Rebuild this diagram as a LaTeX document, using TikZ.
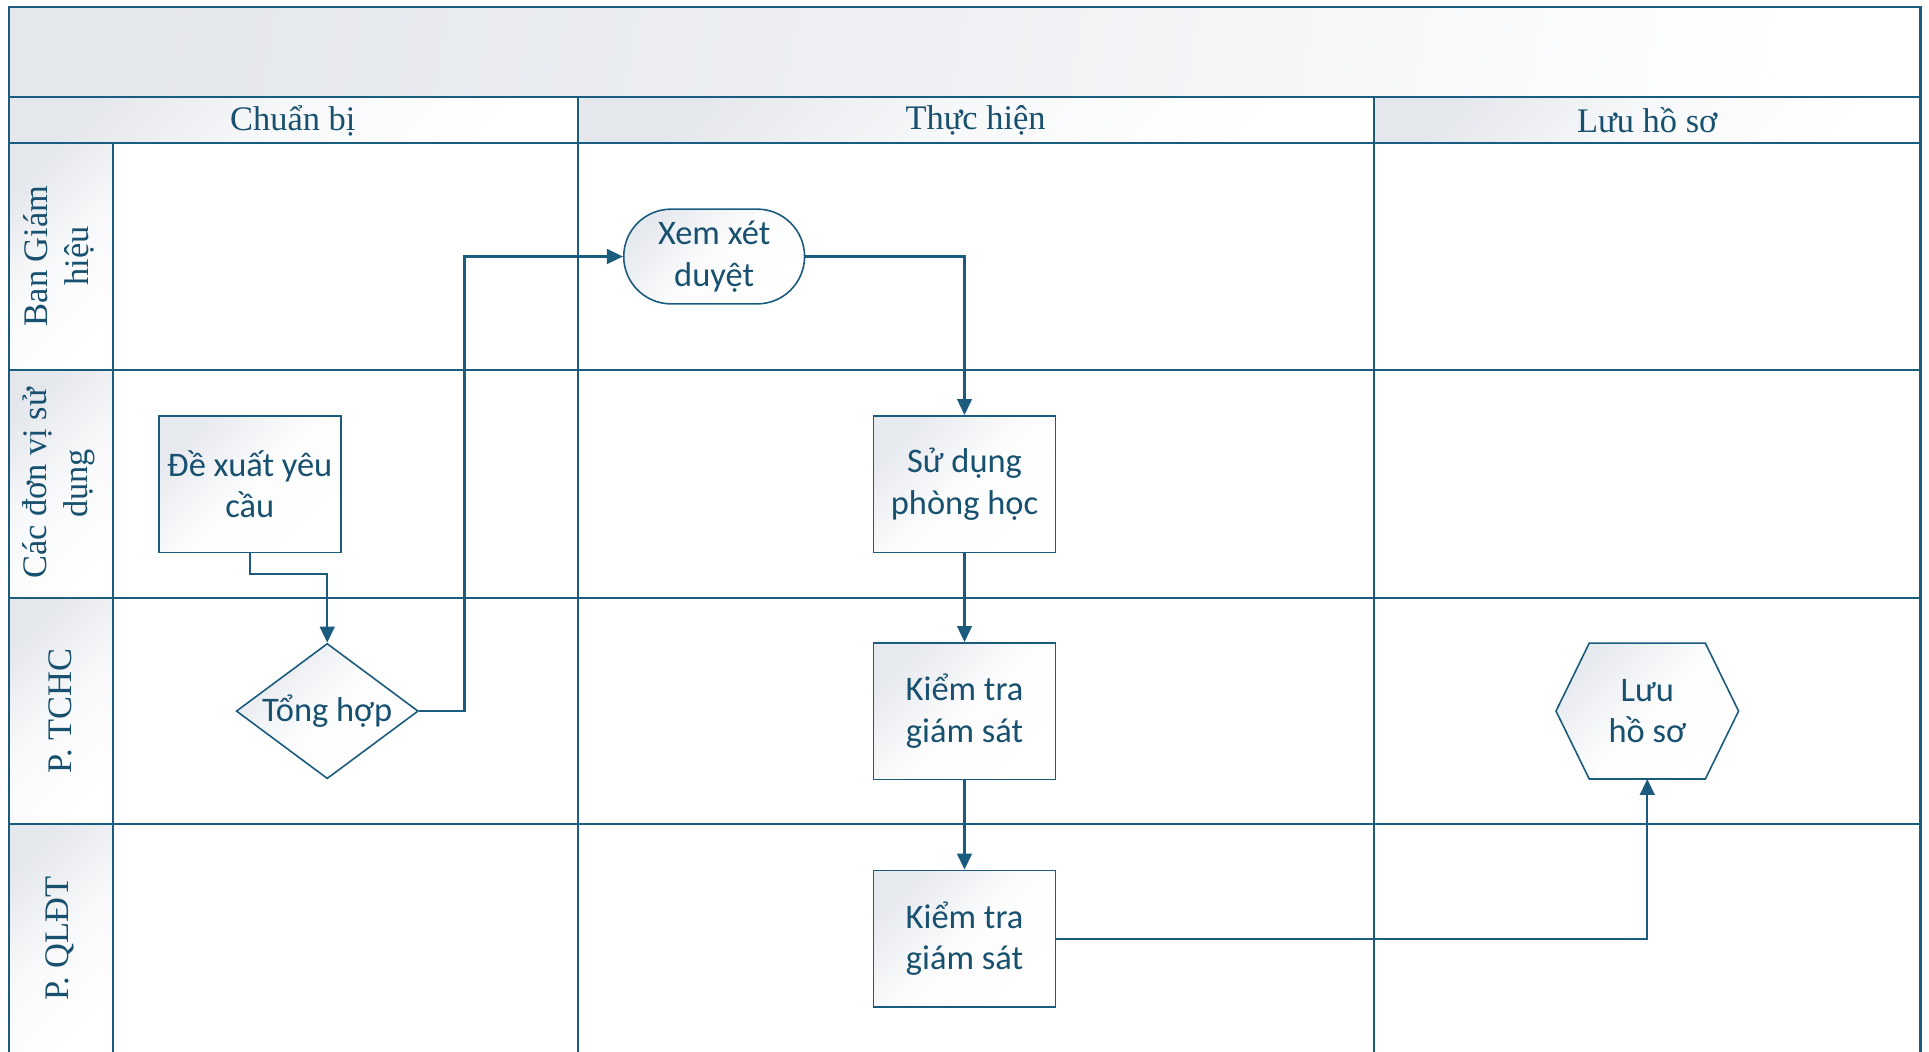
\documentclass[tikz,border=0pt]{standalone}
\usepackage{fontspec}
\setmainfont{Liberation Serif}
\newfontfamily\nodefont{Carlito}
\usetikzlibrary{shapes.geometric,shapes.misc,arrows.meta,calc}
\definecolor{linec}{HTML}{1B5C7E}
\definecolor{txtc}{HTML}{18516F}
\definecolor{gradc}{HTML}{E4E7EC}
\definecolor{nodegrad}{HTML}{E6E9EE}
\begin{document}
\begin{tikzpicture}[x=1pt,y=-1pt,
  frame/.style={draw=linec, line width=1.8pt},
  cellshade/.style={top color=gradc, bottom color=white, middle color=white!75!gradc, shading angle=45},
  headtext/.style={text=txtc, font=\fontsize{28}{33.6}\selectfont, inner sep=0pt},
  lanelab/.style={text=txtc, font=\fontsize{28}{33.6}\selectfont, align=center, rotate=90, inner sep=0pt},
  nodeshade/.style={top color=nodegrad, bottom color=white, middle color=white!88!nodegrad, shading angle=45},
  nodebase/.style={draw=linec, line width=1.3pt, nodeshade,
    inner sep=0pt, align=center, text=txtc, font=\nodefont\fontsize{28}{33.6}\selectfont},
  proc/.style={nodebase, rectangle, minimum width=148pt, minimum height=111pt},
  term/.style={nodebase, rounded rectangle, minimum width=147pt, minimum height=77pt},
  decis/.style={nodebase, diamond, minimum width=148pt, minimum height=110pt},
  hexbox/.style={rectangle, minimum width=148pt, minimum height=110pt, inner sep=0pt, align=center, text=txtc, font=\nodefont\fontsize{28}{33.6}\selectfont},
  conn/.style={draw=linec, line width=1.8pt, -{Triangle[length=13pt,width=12pt]}}
]
\useasboundingbox (0,0) rectangle (1568,855);
% background shadings
\shade[left color=gradc, right color=white, middle color=white!40!gradc, shading angle=80] (7,6) rectangle (1561,79);
\shade[cellshade] (7,79) rectangle (470,116);
\shade[cellshade] (470,79) rectangle (1117,116);
\shade[cellshade] (1117,79) rectangle (1561,116);
\shade[cellshade] (7,116) rectangle (92,301);
\shade[cellshade] (7,301) rectangle (92,486);
\shade[cellshade] (7,486) rectangle (92,670);
\shade[cellshade] (7,670) rectangle (92,855);
% frame lines
\draw[frame] (7,855) -- (7,6) -- (1561,6) -- (1561,855);
\draw[frame] (7,79) -- (1561,79);
\draw[frame] (7,116) -- (1561,116);
\draw[frame] (7,301) -- (1561,301);
\draw[frame] (7,486) -- (1561,486);
\draw[frame] (7,670) -- (1561,670);
\draw[frame] (92,116) -- (92,855);
\draw[frame] (470,79) -- (470,855);
\draw[frame] (1117,79) -- (1117,855);
% headers
\node[headtext] (h1) at (238,98) {Chuẩn bị};
\node[headtext] (h2) at (793,98) {Thực hiện};
\node[headtext] (h3) at (1339,98) {Lưu hồ sơ};
% lane labels
\node[lanelab] (l1) at (48,208) {Ban Giám\\hiệu};
\node[lanelab] (l2) at (48,393) {Các đơn vị sử\\dụng};
\node[lanelab] (l3) at (49,578) {P. TCHC};
\node[lanelab] (l4) at (49,763) {P. QLĐT};
% nodes
\node[proc] (dx) at (203,393.5) {Đề xuất yêu\\cầu};
\node[decis, label={[text=txtc, font=\nodefont\fontsize{28}{33.6}\selectfont]center:Tổng hợp}] (th) at (266,578) {};
\node[term] (xx) at (580.5,208.5) {Xem xét\\duyệt};
\node[proc] (sd) at (784,393.5) {Sử dụng\\phòng học};
\node[proc] (kt1) at (784,578) {Kiểm tra\\giám sát};
\node[proc] (kt2) at (784,763) {Kiểm tra\\giám sát};
\node[hexbox] (hx) at (1339,578) {};
\shade[draw=linec, line width=1.3pt, nodeshade]
  (hx.west) -- ($(hx.north west)+(27,0)$) -- ($(hx.north east)+(-27,0)$) -- (hx.east)
  -- ($(hx.south east)+(-27,0)$) -- ($(hx.south west)+(27,0)$) -- cycle;
\node[hexbox] at (hx) {Lưu\\hồ sơ};
% connectors
\draw[conn] (dx.south) -- ++(0,17) -| (th.north);
\draw[conn] (th.east) -- ++(37,0) |- (xx.west);
\draw[conn] (xx.east) -| (sd.north);
\draw[conn] (sd.south) -- (kt1.north);
\draw[conn] (kt1.south) -- (kt2.north);
\draw[conn] (kt2.east) -| (hx.south);
\end{tikzpicture}
\end{document}
